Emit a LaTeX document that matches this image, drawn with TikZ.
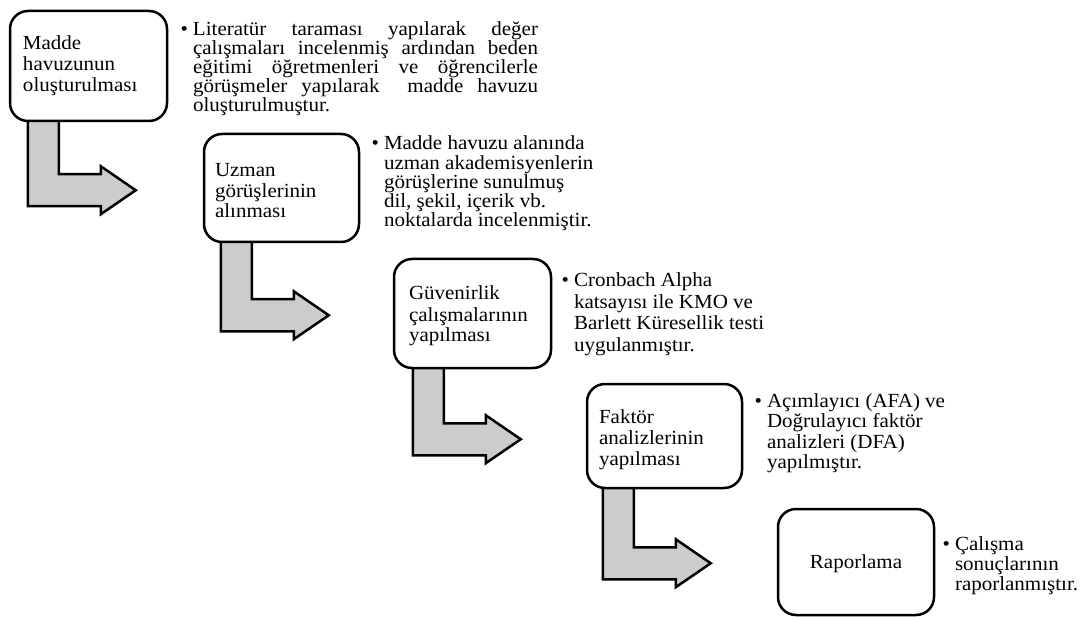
\documentclass[tikz,border=0pt]{standalone}
\usepackage{fontspec}
\setmainfont{Liberation Serif}[FakeStretch=1.05]
\usetikzlibrary{calc,backgrounds}
\definecolor{arrowgray}{RGB}{204,204,204}
\newcommand{\lns}[2]{\vtop{\baselineskip=#1pt\lineskiplimit=-100pt\lineskip=0pt\halign{##\hfil\cr#2\crcr}}}
\newcommand{\bul}{\llap{\textbullet\hspace{5pt}}}
\newcommand{\bentarrow}[4]{%
  \draw[bentarr] ($(#1.south west)+(#2,-3)$) coordinate (#4) -- ++(31,0) -- ++(0,#3+3) -- ++(42,0) -- ++(0,-8) -- ++(35,24) -- ++(-35,24) -- ++(0,-8) -- ++(-73,0) -- cycle;}
\tikzset{
  stagebox/.style={draw, line width=2.5pt, rounded corners=18pt, fill=white, inner sep=0pt},
  bentarr/.style={draw, line width=2.5pt, fill=arrowgray, line join=miter},
  txt/.style={anchor=base west, inner sep=0pt, outer sep=0pt},
}
\begin{document}
\begin{tikzpicture}[x=1pt, y=-1pt, font=\fontsize{20}{21}\selectfont]
\useasboundingbox (0,0) rectangle (1086,617);
% boxes
\node[stagebox, minimum width=157pt, minimum height=110pt] (b1) at (88.5,66) {};
\node[stagebox, minimum width=155pt, minimum height=108pt] (b2) at (281.5,188) {};
\node[stagebox, minimum width=157pt, minimum height=109pt] (b3) at (472.5,313.5) {};
\node[stagebox, minimum width=155pt, minimum height=104pt] (b4) at (664.5,436) {};
\node[stagebox, minimum width=156pt, minimum height=106pt] (b5) at (856,562) {};
% arrows
\begin{scope}[on background layer]
\bentarrow{b1}{19}{52}{a1}
\bentarrow{b2}{18}{56}{a2}
\bentarrow{b3}{20}{54}{a3}
\bentarrow{b4}{17}{58}{a4}
\end{scope}
% box labels
\node[txt] (l1) at (23,50) {\lns{21}{Madde\cr havuzunun\cr oluşturulması}};
\node[txt] (l2) at (215,177) {\lns{20.5}{Uzman\cr görüşlerinin\cr alınması}};
\node[txt] (l3) at (409,300) {\lns{21}{Güvenirlik\cr çalışmalarının\cr yapılması}};
\node[txt] (l4) at (599,423) {\lns{21}{Faktör\cr analizlerinin\cr yapılması}};
\node[anchor=base, inner sep=0pt] (l5) at (856,568) {Raporlama};
% bullet texts
\node[txt] (t1) at (193,36) {\lns{19}{\bul\makebox[345pt][s]{Literatür taraması yapılarak değer}\cr
\makebox[345pt][s]{çalışmaları incelenmiş ardından beden}\cr
\makebox[345pt][s]{eğitimi öğretmenleri ve öğrencilerle}\cr
\makebox[345pt][s]{görüşmeler yapılarak\ \ madde havuzu}\cr
oluşturulmuştur.}};
\node[txt] (t2) at (384,150) {\lns{19.2}{\bul Madde havuzu alanında\cr uzman akademisyenlerin\cr görüşlerine sunulmuş\cr dil, şekil, içerik vb.\cr noktalarda incelenmiştir.}};
\node[txt] (t3) at (574,287) {\lns{21.5}{\bul Cronbach Alpha\cr katsayısı ile KMO ve\cr Barlett Küresellik testi\cr uygulanmıştır.}};
\node[txt] (t4) at (767,407) {\lns{20.5}{\bul Açımlayıcı (AFA) ve\cr Doğrulayıcı faktör\cr analizleri (DFA)\cr yapılmıştır.}};
\node[txt] (t5) at (955,550) {\lns{20}{\bul Çalışma\cr sonuçlarının\cr raporlanmıştır.}};
\end{tikzpicture}
\end{document}
